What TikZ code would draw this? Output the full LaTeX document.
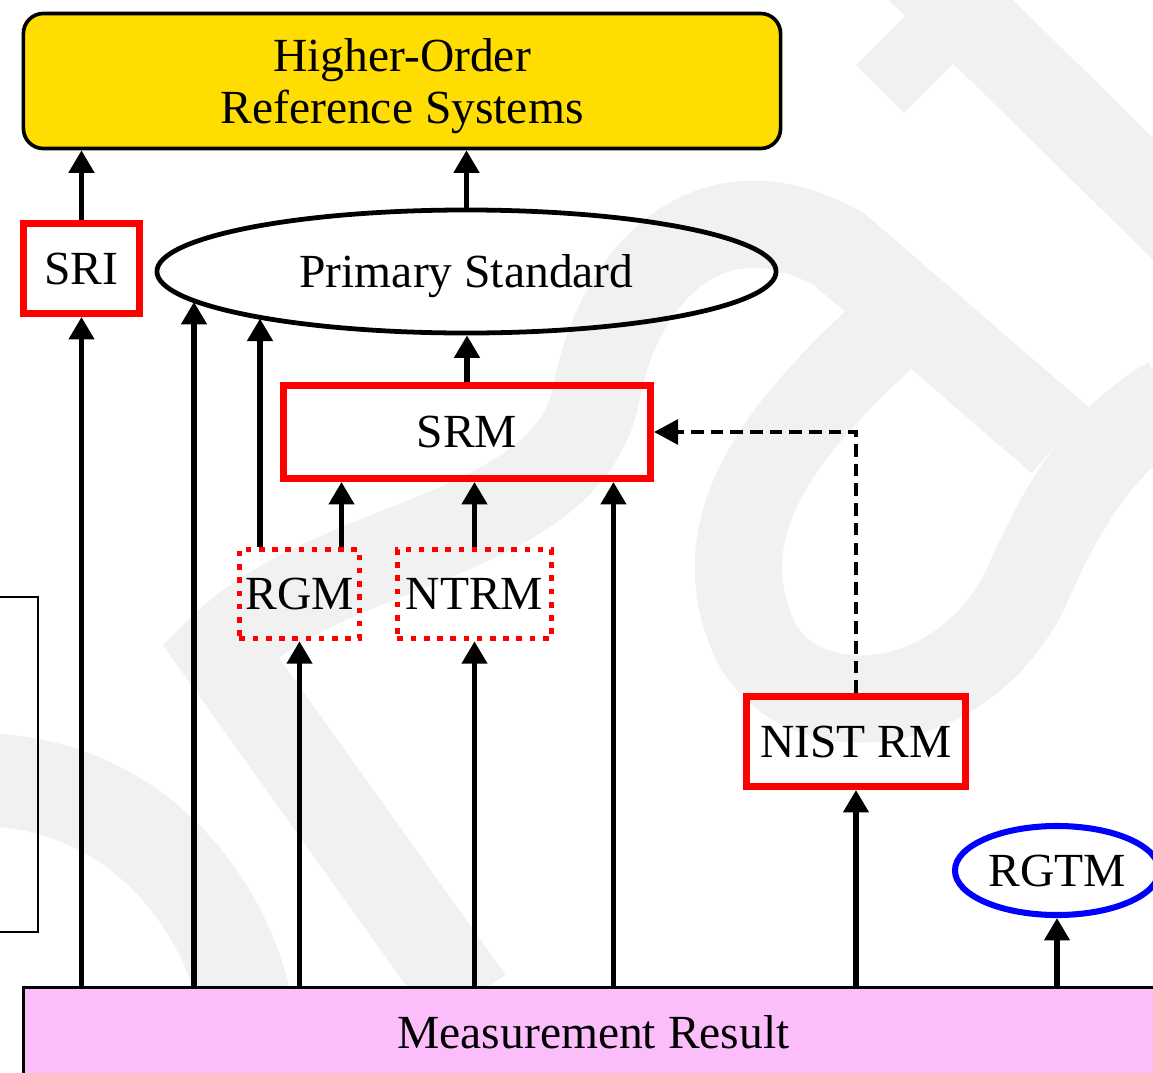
\documentclass[tikz,border=0pt]{standalone}
\usepackage{fontspec}
\setmainfont{Liberation Serif}
\usetikzlibrary{arrows.meta,positioning,calc,shapes.geometric}
\definecolor{refyellow}{RGB}{255,221,0}
\definecolor{resultpink}{RGB}{251,190,251}
\definecolor{markgray}{RGB}{241,241,241}

\begin{document}
\begin{tikzpicture}[
    x=0.025cm, y=-0.025cm,
    font=\fontsize{33.8}{37}\selectfont,
    topbox/.style={rectangle, draw, line width=2.6pt, rounded corners=0.5cm, fill=refyellow,
                   minimum width=18.925cm, minimum height=3.375cm, align=center, inner sep=0pt,
                   text depth=0pt},
    basebox/.style={rectangle, draw, line width=2.6pt, fill=resultpink,
                    minimum width=28.5cm, minimum height=2.225cm, inner sep=0pt},
    redbox/.style={rectangle, draw=red, line width=5pt, minimum height=2.25cm, inner sep=0pt},
    dotbox/.style={rectangle, draw=red, line width=4pt, dash pattern=on 4pt off 5.4pt,
                   minimum height=2.225cm, inner sep=0pt},
    oval/.style={ellipse, draw, line width=3.4pt, inner sep=0pt},
    arrow/.style={-{Triangle[length=0.56cm, width=0.62cm]}, line width=3.6pt},
    dasharrow/.style={-{Triangle[length=0.6cm, width=0.62cm]}, line width=2.6pt,
                      dash pattern=on 9pt off 5pt},
    wmark/.style={draw=markgray, line width=62pt, line cap=butt},
]
\useasboundingbox (0,0) rectangle (1153,1073);
\clip (0,0) rectangle (1153,1073);

% faint lettering behind everything
\draw[wmark] (905,-45) -- (1200,245);
\draw[wmark, line width=48pt] (880,89) -- (940,29);
\draw[wmark] (470,1000) -- (220,650) .. controls (330,540) and (560,540) .. (595,400)
    .. controls (620,260) and (720,180) .. (840,250) -- (1060,440);
\draw[wmark] (900,320) .. controls (790,420) and (700,520) .. (755,640)
    .. controls (800,730) and (960,720) .. (1025,590) .. controls (1060,510) and (1100,440) .. (1170,400);
\draw[wmark, line width=66pt] (-10,780) .. controls (120,785) and (215,880) .. (245,1000);

% Top level
\node[topbox] (top) at (402,81) {Higher-Order\\Reference Systems};

% Standards
\node[redbox, minimum width=2.9cm] (sri) at (81.5,268.5) {SRI};
\node[oval, minimum width=15.475cm, minimum height=3.075cm, text depth=0pt] (ps) at (466.5,271.5) {Primary Standard};
\node[redbox, minimum width=9.175cm, minimum height=2.325cm] (srm) at (467,432) {SRM};

% points on the lower rim of the ellipse
\coordinate (psleft) at ($(ps.center)+(-272.5,30.4)$);
\coordinate (psrgm) at ($(ps.center)+(-206.5,47.1)$);

% Materials
\node[dotbox, minimum width=3.0cm] (rgm) at (299.5,594) {RGM};
\node[dotbox, minimum width=3.85cm] (ntrm) at (474.5,594) {NTRM};
\node[redbox, minimum width=5.45cm] (nist) at (856,741.5) {NIST RM};
\node[oval, draw=blue, line width=4.3pt, minimum width=5.1cm, minimum height=2.225cm] (rgtm) at (1057,870.5) {RGTM};

% Side frame
\node[rectangle, draw, line width=1.1pt, minimum width=1.45cm, minimum height=8.375cm] (side) at (9,764.5) {};

% Result
\node[basebox] (mr) at (593.5,1032) {Measurement Result};

% Arrows
\draw[arrow] (sri.north) -- (sri.north |- top.south);
\draw[arrow] (ps.north) -- (ps.north |- top.south);
\draw[arrow] (sri.south |- mr.north) -- (sri.south);
\draw[arrow] (psleft |- mr.north) -- (psleft);
\draw[arrow] (psrgm |- rgm.north) -- (psrgm);
\draw[arrow] ([xshift=1.05cm]rgm.north) -- ([xshift=1.05cm]rgm.north |- srm.south);
\draw[arrow] (ntrm.north) -- (ntrm.north |- srm.south);
\draw[arrow] ([xshift=3.66cm]srm.south |- mr.north) -- ([xshift=3.66cm]srm.south);
\draw[arrow] (srm.north) -- (srm.north |- ps.south);
\draw[arrow] (rgm.south |- mr.north) -- (rgm.south);
\draw[arrow] (ntrm.south |- mr.north) -- (ntrm.south);
\draw[arrow] (nist.south |- mr.north) -- (nist.south);
\draw[arrow] (rgtm.south |- mr.north) -- (rgtm.south);
\draw[dasharrow] (nist.north) |- (srm.east);

\end{tikzpicture}
\end{document}
